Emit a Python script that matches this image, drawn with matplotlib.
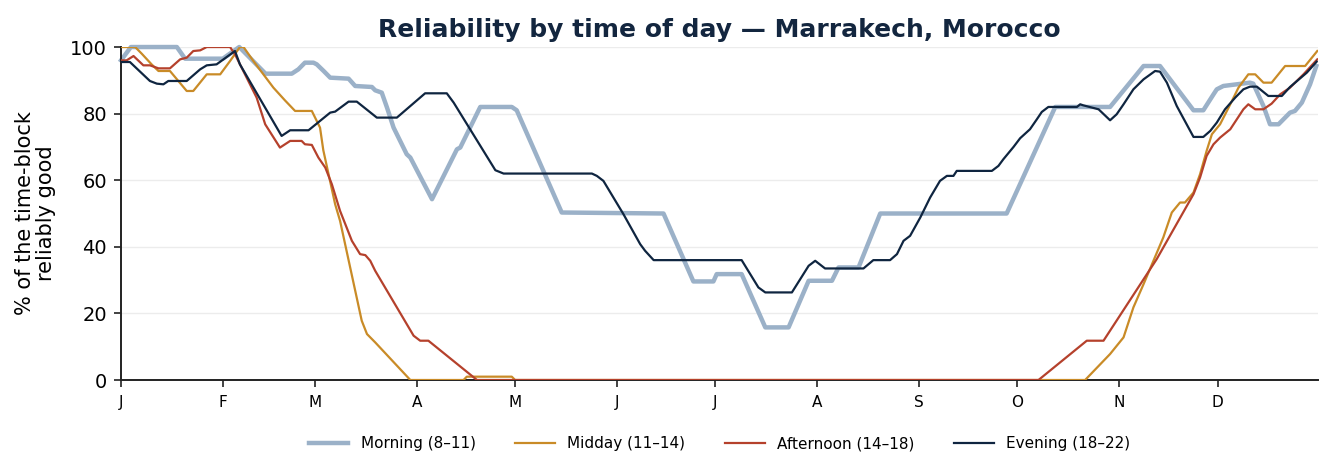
import matplotlib
matplotlib.use("Agg")
import matplotlib.pyplot as plt

# ---- data (day of year, % reliably good) ----
month_ticks = [0, 31, 59, 90, 120, 151, 181, 212, 243, 273, 304, 334]
month_labels = ["J", "F", "M", "A", "M", "J", "J", "A", "S", "O", "N", "D"]

morning_days = [0, 3, 17, 19.5, 31, 36, 44, 52, 54, 56, 58.6, 59.6, 61.7, 63.7, 69.3, 71.3, 76.4, 77.4,
                79.4, 81, 83, 87, 88.1, 94.7, 102.3, 103.3, 109.4, 119, 120.5, 134.2, 165.2, 174.3,
                180.4, 181.4, 189, 196.2, 203.3, 209.4, 216.5, 218.5, 224.6, 231.2, 269.7, 284.5,
                301.2, 311.4, 316.4, 326.6, 329.6, 332.7, 333.7, 335.7, 343.8, 344.8, 347.9, 349.9,
                352.5, 354, 356, 357.5, 359.6, 362.1, 364]
morning_vals = [96, 100, 100, 96.5, 96.5, 100, 92, 92, 93.3, 95.3, 95.3, 94.8, 92.8, 90.8, 90.5, 88.3,
                88, 87, 86.3, 81.8, 75.8, 67.8, 66.8, 54.3, 69.3, 69.8, 82, 82, 81, 50.3, 50, 29.6,
                29.6, 31.8, 31.8, 15.8, 15.8, 29.8, 29.8, 33.8, 33.8, 50, 50, 82, 82, 94.3, 94.3,
                81, 81, 85.8, 87.3, 88.3, 89.3, 89, 82.3, 76.8, 76.8, 78.3, 80.3, 80.8, 83.3, 88.8, 94.3]

midday_days = [0, 4.3, 6.3, 9.3, 11.4, 14.9, 20, 22, 26.1, 30.2, 33.2, 36.2, 37.3, 40.3, 46.4, 49.9,
               53, 58.1, 59.6, 60.6, 61.6, 65.2, 66.7, 73.3, 74.9, 77.4, 88.1, 104.3, 105.3, 119,
               120, 293.6, 301.2, 305.3, 306.3, 308.3, 311.4, 314.4, 317.4, 320, 322.5, 324, 326.6,
               328.6, 330.6, 332.2, 334.7, 337.8, 340.3, 343.3, 345.4, 347.9, 350.4, 354.5, 360.6, 364.3]
midday_vals = [100, 100, 98, 94.8, 92.8, 92.8, 86.8, 86.8, 91.8, 91.8, 95.8, 100, 100, 95.8, 87.8,
               84, 80.8, 80.8, 77.8, 75.8, 69, 52.8, 47.8, 17.8, 13.8, 11.3, 0, 0, 1, 1, 0, 0, 7.8,
               12.8, 15.8, 21.8, 28.8, 35.8, 42.8, 50.3, 53.3, 53.3, 56.3, 61.8, 68.8, 73.8, 76.8,
               82.8, 87.8, 91.8, 91.8, 89.3, 89.3, 94.3, 94.3, 98.8]

afternoon_days = [0, 1.7, 3.8, 6.8, 8.8, 11.4, 14.9, 18, 20, 22, 24.1, 26.1, 33.2, 34.7, 41.3, 43.9,
                  48.4, 51.5, 55, 56, 58.1, 60.1, 62.2, 64.2, 66.7, 70.3, 72.8, 74.4, 75.9, 77.4,
                  89.1, 91.1, 93.6, 108.4, 279.4, 294.1, 299.2, 315.4, 326.6, 328.6, 330.6, 332.7,
                  334.7, 337.8, 339.8, 341.8, 343.3, 345.4, 347.9, 350.4, 353, 356, 360.1, 364.3]
afternoon_vals = [96, 96, 97.3, 94.5, 94.5, 93.6, 93.6, 96.3, 96.8, 98.8, 99, 100, 100, 97.8, 84.8,
                  76.8, 69.8, 71.8, 71.8, 70.8, 70.6, 66.8, 63.8, 58.8, 50.8, 41.8, 37.8, 37.5, 35.8,
                  32.8, 13.3, 11.8, 11.8, 0, 0, 11.8, 11.8, 36.3, 55.8, 60.8, 67.3, 70.8, 72.8, 75.3,
                  78.3, 81.3, 82.8, 81.3, 81.3, 83, 85.8, 87.8, 91.8, 96.3]

evening_days = [0, 2.7, 8.8, 10.9, 12.9, 14.4, 20, 24.1, 26.1, 29.1, 31.2, 34.7, 36.2, 48.9, 51.5,
                57.1, 63.7, 65.2, 69.3, 71.8, 77.9, 84, 92.6, 99.2, 101.3, 114, 116.5, 143.4, 144.9,
                146.9, 153, 158.1, 159.6, 162.2, 189, 194.1, 196.2, 204.3, 209.4, 211.4, 214.4,
                226.1, 229.1, 234.2, 236.3, 238.3, 240.3, 243.4, 246.4, 249.4, 251.5, 253.5, 254.5,
                265.2, 267.2, 268.7, 271.8, 273.8, 276.8, 278.9, 280.4, 282.4, 291.1, 292.1, 293,
                297.7, 301.2, 303.2, 305.3, 308.3, 311.4, 314.9, 316.4, 318.5, 321.5, 326.6, 329.6,
                331.7, 333.7, 336.2, 339.3, 341.8, 343.8, 345.9, 349.4, 353.5, 356, 361.1, 364.1]
evening_vals = [95.5, 95.5, 89.8, 89, 88.8, 89.8, 89.8, 93.3, 94.5, 94.8, 96.3, 98.8, 94.8, 73.3, 75,
                75, 80.3, 80.6, 83.6, 83.6, 78.8, 78.8, 86.1, 86.1, 83.3, 63, 62, 62, 61.3, 59.8,
                49.8, 40.8, 38.8, 36, 36, 27.8, 26.3, 26.3, 34.3, 35.8, 33.5, 33.5, 36, 36, 37.8,
                41.8, 43.3, 48.8, 54.8, 59.8, 61.3, 61.3, 62.8, 62.8, 64.3, 66.3, 70, 72.6, 75.3,
                78.3, 80.5, 82, 82, 82.8, 82.5, 81.3, 78, 79.8, 82.8, 87.3, 90.3, 92.8, 92.6, 89.3,
                82.3, 73, 73, 74.8, 77.3, 81.3, 84.8, 87.3, 88.1, 88.1, 85.3, 85.3, 88, 92.3, 95.6]

series_labels = ["Morning (8\u201311)", "Midday (11\u201314)", "Afternoon (14\u201318)", "Evening (18\u201322)"]

# ---- styling ----
C_MORNING = "#9bb1c8"
C_MIDDAY = "#c98b27"
C_AFTERNOON = "#b5412c"
C_EVENING = "#0f2540"
NAVY = "#13263f"

fig = plt.figure(figsize=(13.33, 4.75), dpi=100)
ax = fig.add_axes([0.0908, 0.2, 0.8979, 0.701])

ax.plot(morning_days, morning_vals, color=C_MORNING, lw=3.2, label=series_labels[0], zorder=2,
        clip_on=False)
ax.plot(midday_days, midday_vals, color=C_MIDDAY, lw=1.6, label=series_labels[1], zorder=3)
ax.plot(afternoon_days, afternoon_vals, color=C_AFTERNOON, lw=1.6, label=series_labels[2], zorder=4)
ax.plot(evening_days, evening_vals, color=C_EVENING, lw=1.6, label=series_labels[3], zorder=5)

ax.set_xlim(0, 364.5)
ax.set_ylim(0, 100)
ax.set_xticks(month_ticks)
ax.set_xticklabels(month_labels)
ax.set_yticks([0, 20, 40, 60, 80, 100])
ax.tick_params(axis="y", labelsize=14, length=5, width=1.2, color="#222222", pad=5)
ax.tick_params(axis="x", labelsize=11, length=5, width=1.2, color="#222222", pad=6)
ax.grid(axis="y", color="#ececec", lw=1)
ax.set_axisbelow(True)
for s in ["top", "right"]:
    ax.spines[s].set_visible(False)
for s in ["left", "bottom"]:
    ax.spines[s].set_color("#222222")
    ax.spines[s].set_linewidth(1.4)

ax.set_ylabel("% of the time-block\nreliably good", fontsize=15, linespacing=1.1, labelpad=10)
ax.set_title("Reliability by time of day \u2014 Marrakech, Morocco", fontsize=18,
             fontweight="bold", color=NAVY, pad=7)

leg = ax.legend(loc="center", bbox_to_anchor=(0.5, -0.192), ncol=4, frameon=False,
                fontsize=11, handlelength=2.6, columnspacing=2.6)

fig.savefig("out.png", dpi=100)
